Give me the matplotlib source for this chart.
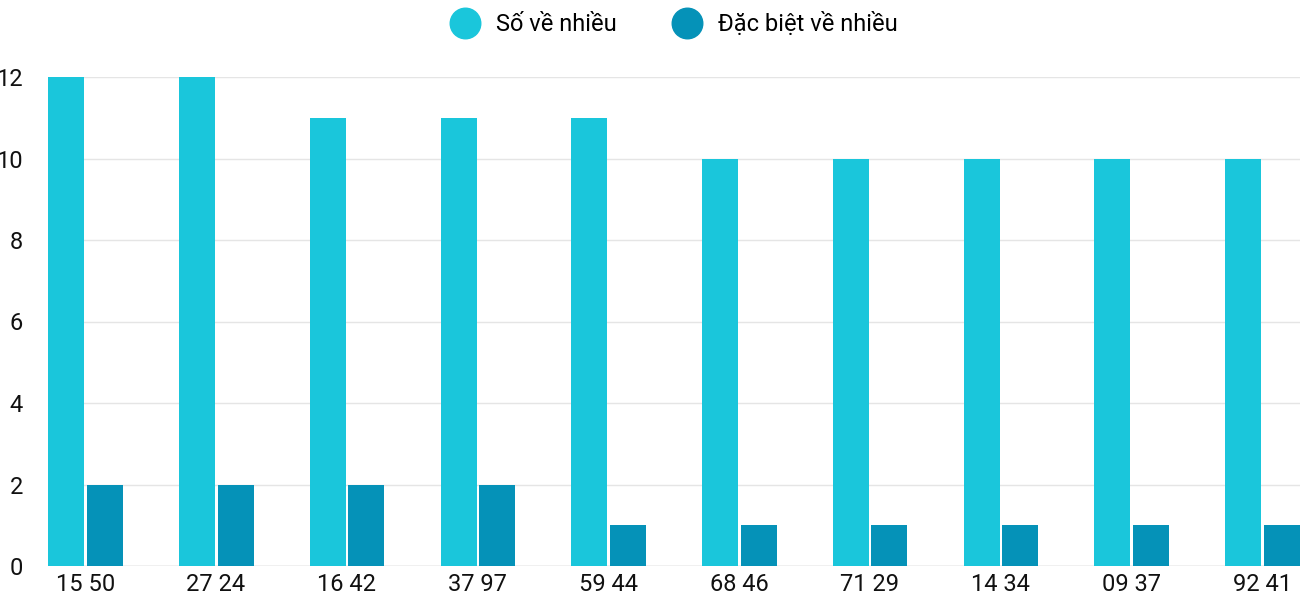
import matplotlib.pyplot as plt
import numpy as np
from matplotlib.lines import Line2D

categories = ['15 50', '27 24', '16 42', '37 97', '59 44', '68 46', '71 29', '14 34', '09 37', '92 41']
so_ve_nhieu = [12, 12, 11, 11, 11, 10, 10, 10, 10, 10]
dac_biet = [2, 2, 2, 2, 1, 1, 1, 1, 1, 1]

plt.rcParams['font.family'] = ['Roboto', 'DejaVu Sans']

fig = plt.figure(figsize=(13, 6), dpi=100)
ax = fig.add_axes([48 / 1300, 34 / 600, 1252 / 1300, 489 / 600])

x = np.arange(len(categories))
w = 0.275
ax.bar(x - 0.145, so_ve_nhieu, w, color='#1AC6DB', zorder=3)
ax.bar(x + 0.15, dac_biet, w, color='#0592B8', zorder=3)

ax.set_xlim(-0.285, 9.29)
ax.set_ylim(0, 12)
ax.set_yticks(range(0, 13, 2))
ax.set_xticks(x)
ax.set_xticklabels(categories)
ax.yaxis.grid(True, color='#e5e5e5', linewidth=1, zorder=0)
ax.tick_params(length=0, labelsize=17, colors='#111111')
ax.tick_params(axis='y', pad=18)
ax.tick_params(axis='x', pad=5)
for s in ax.spines.values():
    s.set_visible(False)
ax.axhline(0, color='#cccccc', linewidth=1, zorder=2)

handles = [Line2D([], [], marker='o', linestyle='', markersize=22, color=c)
           for c in ['#1AC6DB', '#0592B8']]
fig.legend(handles, ['Số về nhiều', 'Đặc biệt về nhiều'], loc='upper center',
           bbox_to_anchor=(0.515, 1.015), ncol=2, frameon=False, fontsize=17,
           handletextpad=0.3, columnspacing=2.0)

fig.savefig('out.png')
